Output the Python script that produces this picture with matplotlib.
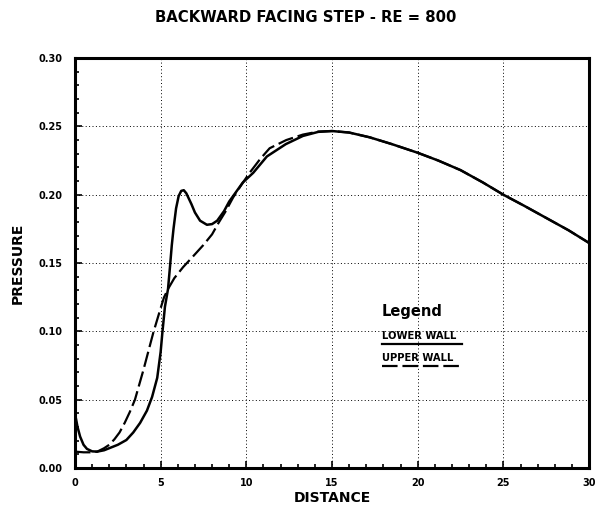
import numpy as np
import matplotlib
matplotlib.use("Agg")
import matplotlib.pyplot as plt
from matplotlib.lines import Line2D
from matplotlib.ticker import MultipleLocator

plt.rcParams['font.family'] = ['DejaVu Sans']
plt.rcParams['font.weight'] = 'bold'

# Pressure along the lower wall
lower_x = [0.0, 0.15, 0.3, 0.5, 0.7, 1.0, 1.3, 1.7, 2.0, 2.5, 3.0, 3.4, 3.8, 4.2, 4.5, 4.8,
           5.0, 5.1, 5.25, 5.43, 5.55, 5.65, 5.75, 5.9, 6.05, 6.2, 6.35, 6.5, 6.8, 7.0, 7.3,
           7.7, 8.0, 8.3, 8.7, 9.0, 9.4, 9.8, 10.4, 11.2, 12.3, 13.3, 14.2, 15.0, 16.0,
           17.2, 18.5, 20.0, 21.2, 22.5, 23.8, 25.0, 26.2, 27.5, 28.8, 30.0]
lower_p = [0.040, 0.030, 0.023, 0.017, 0.014, 0.0122, 0.012, 0.013, 0.0145, 0.017, 0.0205,
           0.026, 0.033, 0.042, 0.052, 0.066, 0.085, 0.099, 0.118, 0.131, 0.148, 0.163,
           0.175, 0.190, 0.199, 0.2028, 0.2033, 0.201, 0.193, 0.187, 0.181, 0.178, 0.1785,
           0.181, 0.188, 0.195, 0.202, 0.209, 0.216, 0.228, 0.237, 0.243, 0.2460, 0.2466,
           0.2455, 0.242, 0.237, 0.2307, 0.225, 0.218, 0.209, 0.200, 0.192, 0.183, 0.174,
           0.1647]

# Pressure along the upper wall
upper_x = [0.0, 0.5, 1.0, 1.3, 1.7, 2.0, 2.3, 2.6, 2.9, 3.2, 3.5, 4.0, 4.57, 5.0, 5.2,
           5.43, 5.8, 6.31, 6.9, 7.48, 8.0, 8.36, 8.8, 9.23, 9.7, 10.19, 10.8, 11.36,
           12.33, 13.3, 14.2, 15.0, 16.0, 17.2, 18.5, 20.0, 21.2, 22.5, 23.8, 25.0, 26.2,
           27.5, 28.8, 30.0]
upper_p = [0.012, 0.0115, 0.0115, 0.012, 0.0145, 0.017, 0.021, 0.026, 0.033, 0.041, 0.050,
           0.072, 0.099, 0.117, 0.125, 0.131, 0.139, 0.147, 0.155, 0.163, 0.171, 0.179,
           0.188, 0.198, 0.207, 0.216, 0.226, 0.234, 0.240, 0.244, 0.2462, 0.2466, 0.2455,
           0.242, 0.237, 0.2307, 0.225, 0.218, 0.209, 0.200, 0.192, 0.183, 0.174, 0.1647]

fig = plt.figure(figsize=(5.95, 5.08), dpi=100)
ax = fig.add_axes([0.126, 0.0787, 0.864, 0.807])

ax.plot(lower_x, lower_p, color='black', lw=1.8, solid_capstyle='round')
ax.plot(upper_x, upper_p, color='black', lw=1.6, dashes=(7, 2.2))

ax.set_xlim(0, 30)
ax.set_ylim(0, 0.30)
ax.xaxis.set_major_locator(MultipleLocator(5))
ax.xaxis.set_minor_locator(MultipleLocator(1))
ax.yaxis.set_major_locator(MultipleLocator(0.05))
ax.yaxis.set_minor_locator(MultipleLocator(0.01))
ax.set_yticklabels(['%.2f' % v for v in ax.get_yticks()])
ax.tick_params(which='both', direction='in', width=1.2, labelsize=7)
ax.tick_params(which='major', length=5, pad=7)
ax.tick_params(axis='y', which='major', pad=9)
ax.tick_params(which='minor', length=3)
ax.grid(which='major', color='black', linestyle=(0, (1, 2.5)), lw=0.7)
for s in ax.spines.values():
    s.set_linewidth(2.2)

ax.set_xlabel('DISTANCE', fontsize=10, fontweight='bold', labelpad=2)
ax.set_ylabel('PRESSURE', fontsize=10, fontweight='bold', labelpad=10)
fig.text(0.513, 0.966, 'BACKWARD FACING STEP - RE = 800', ha='center', va='center',
         fontsize=10.7, fontweight='bold')

# Hand-made legend block
ax.text(0.597, 0.381, 'Legend', transform=ax.transAxes, fontsize=10.5,
        fontweight='bold', va='center')
ax.text(0.597, 0.321, 'LOWER WALL', transform=ax.transAxes, fontsize=7.2,
        fontweight='bold', va='center')
ax.text(0.597, 0.268, 'UPPER WALL', transform=ax.transAxes, fontsize=7.2,
        fontweight='bold', va='center')
ax.add_line(Line2D([0.597, 0.752], [0.303, 0.303], transform=ax.transAxes,
                   color='black', lw=1.6))
ax.add_line(Line2D([0.597, 0.752], [0.248, 0.248], transform=ax.transAxes,
                   color='black', lw=1.6, dashes=(7, 2.2)))

fig.savefig('out.png', dpi=100)
